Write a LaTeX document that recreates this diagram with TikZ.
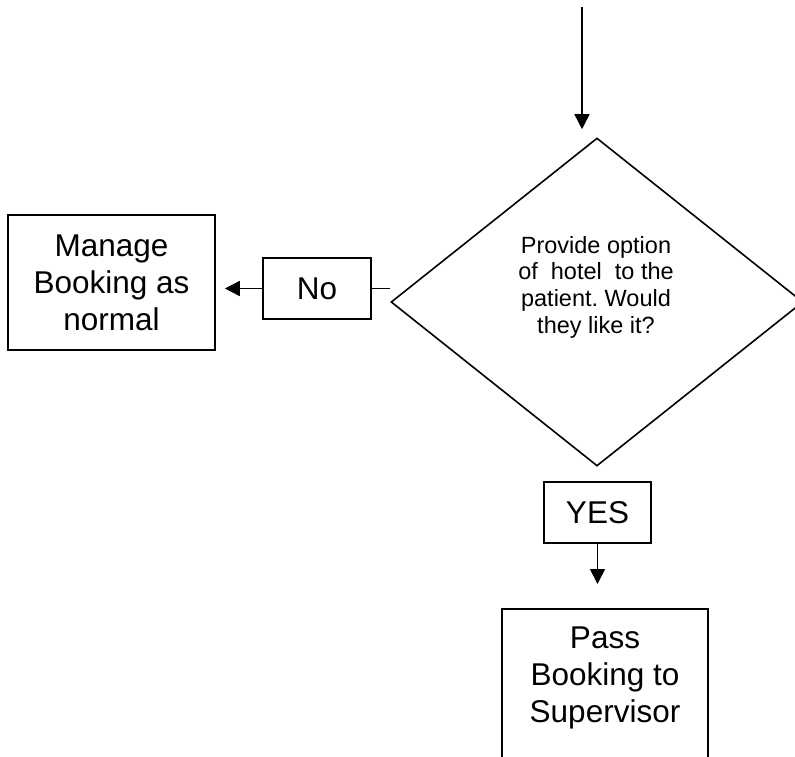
\documentclass[tikz,border=0pt]{standalone}
\usepackage{fontspec}
\setmainfont{Liberation Sans}
\usetikzlibrary{arrows.meta,shapes.geometric}
\frenchspacing
\begin{document}
\begin{tikzpicture}[x=1pt,y=-1pt,
  boxline/.style={draw=black, line width=1.6pt, rectangle, inner sep=0pt},
  bigtext/.style={font=\fontsize{31.5}{37}\selectfont, align=center, inner sep=0pt},
  smalltext/.style={font=\fontsize{23.5}{26.7}\selectfont, align=center, inner sep=0pt},
  conn/.style={draw=black, line width=1.6pt},
  arr/.style={conn, -{Triangle[length=15pt,width=15pt]}}
]
\clip (0,0) rectangle (795,756);
\fill[white] (0,0) rectangle (795,756);

% decision diamond
\node[draw=black, line width=1.6pt, diamond, minimum width=412pt, minimum height=328pt, inner sep=0pt] (dec) at (597,302) {};
\node[smalltext] (dectext) at (596,287) {Provide option\\of~~hotel~~to the\\patient. Would\\they like it?};

% boxes
\node[boxline, minimum width=207pt, minimum height=135pt, bigtext] (manage) at (111.5,282.5) {Manage\\Booking as\\normal};
\node[boxline, minimum width=108pt, minimum height=61pt, bigtext] (no) at (317,288.5) {No};
\node[boxline, minimum width=107pt, minimum height=61pt, bigtext] (yes) at (597.5,512.5) {YES};
\node[boxline, minimum width=206pt, minimum height=160pt, anchor=north] (pass) at (605,608) {};
\node[bigtext] (passtext) at (605,678) {Pass\\Booking to\\Supervisor};

% connectors
\coordinate (topstart) at (582,7);
\draw[arr, shorten >=8pt] (topstart) -- (topstart |- dec.north);
\draw[conn] (no.east) -- (no.east -| dec.west);
\draw[arr, shorten >=9pt] (no.west) -- (manage.east |- no.west);
\draw[arr, shorten >=24pt] (yes.south) -- (yes.south |- pass.north);
\end{tikzpicture}
\end{document}
